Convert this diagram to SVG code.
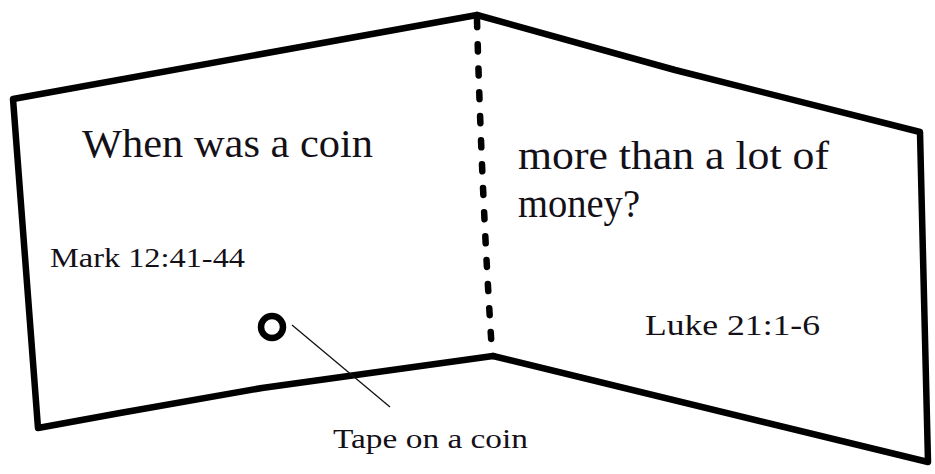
<svg xmlns="http://www.w3.org/2000/svg" width="935" height="474" viewBox="0 0 935 474">
<style>
.edge{fill:none;stroke:#000;stroke-width:6.5;stroke-linejoin:round;stroke-linecap:round}
.fold{fill:none;stroke:#000;stroke-width:6.5;stroke-linecap:round;stroke-dasharray:7 17}
.lead{fill:none;stroke:#111;stroke-width:1.3}
.t{font-family:"Liberation Serif","Times New Roman",serif;fill:#141018}
</style>
<rect width="935" height="474" fill="#fff"/>
<g id="card">
<polyline class="edge" points="477,15 13,99 38,428 120,413 262,388 493,356"/>
<polyline class="edge" points="477,15 675,70 920,132 928,462 493,356"/>
</g>
<g id="fold">
<path class="fold" d="M477,20 Q482,200 492,352"/>
</g>
<g id="coin">
<circle cx="272" cy="327" r="11" fill="none" stroke="#000" stroke-width="6.5"/>
</g>
<g id="connectors">
<line class="lead" x1="292" y1="325" x2="390" y2="407"/>
</g>
<g id="labels">
<text class="t" x="82" y="157" font-size="39" textLength="291" lengthAdjust="spacingAndGlyphs">When was a coin</text>
<text class="t" x="518" y="169" font-size="39" textLength="311" lengthAdjust="spacingAndGlyphs">more than a lot of</text>
<text class="t" x="518" y="217" font-size="39" textLength="122" lengthAdjust="spacingAndGlyphs">money?</text>
<text class="t" x="50" y="267" font-size="27" textLength="195" lengthAdjust="spacingAndGlyphs">Mark 12:41-44</text>
<text class="t" x="645" y="335" font-size="30" textLength="175" lengthAdjust="spacingAndGlyphs">Luke 21:1-6</text>
<text class="t" x="333" y="448" font-size="27" textLength="195" lengthAdjust="spacingAndGlyphs">Tape on a coin</text>
</g>
</svg>
